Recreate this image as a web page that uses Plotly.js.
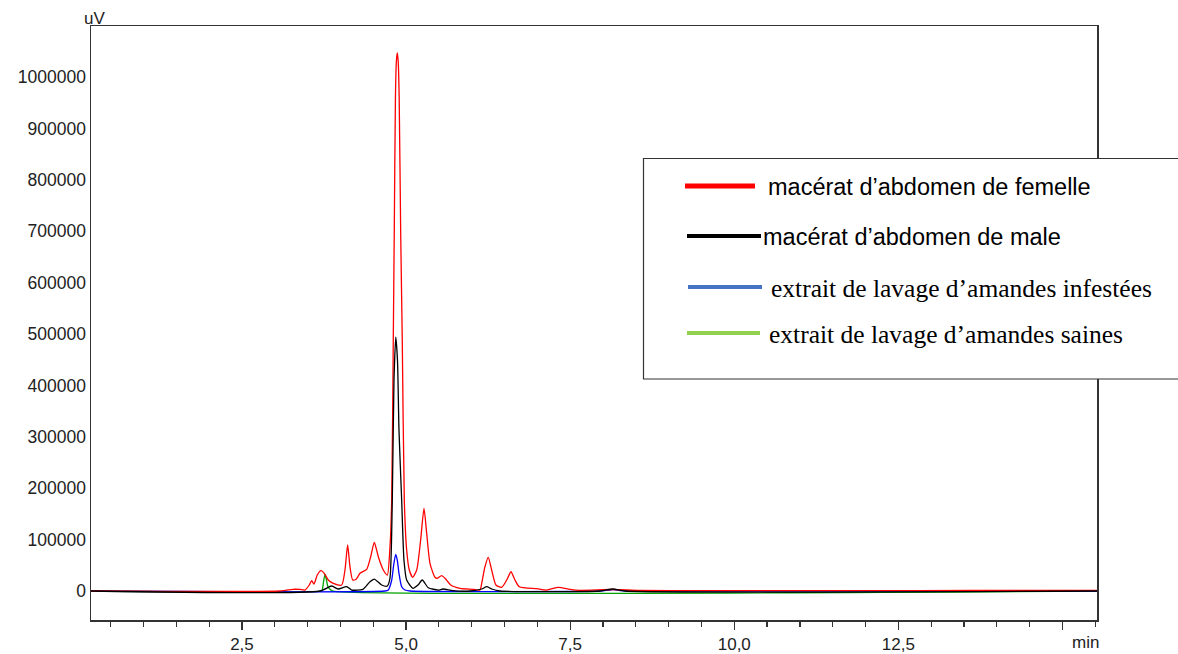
<!DOCTYPE html>
<html>
<head>
<meta charset="utf-8">
<script src="https://cdn.plot.ly/plotly-3.0.1.min.js"></script>
<style>html,body{margin:0;padding:0;background:#fff;}#chart{width:1178px;height:654px;}</style>
</head>
<body>
<div id="chart"></div>
<script>
// Retention time (min) and signal (uV)
const femelleTime = [0.2, 3.079, 3.277, 3.384, 3.460, 3.525, 3.562, 3.597, 3.647, 3.704, 3.754, 3.815, 3.891, 4.019, 4.069, 4.110, 4.145, 4.187, 4.237, 4.298, 4.400, 4.461, 4.516, 4.577, 4.653, 4.714, 4.755, 4.781, 4.805, 4.820, 4.838, 4.852, 4.866, 4.880, 4.895, 4.918, 4.942, 4.973, 5.009, 5.049, 5.101, 5.162, 5.222, 5.273, 5.314, 5.364, 5.440, 5.475, 5.542, 5.593, 5.680, 5.821, 6.024, 6.126, 6.152, 6.202, 6.252, 6.304, 6.369, 6.456, 6.533, 6.598, 6.659, 6.725, 6.990, 7.142, 7.319, 7.497, 7.649, 8.152, 8.56, 9.48, 12.8, 14.5, 15.526];
const femelleSignal = [0, 0, 3300, 3000, 1900, 11700, 20000, 13600, 31100, 39500, 34400, 21400, 15000, 11700, 40900, 89500, 47300, 21400, 22800, 34400, 42200, 66700, 94700, 66700, 40900, 31100, 86200, 177000, 488300, 696500, 960000, 1030000, 1046700, 1030000, 960000, 696500, 488300, 177000, 79800, 40900, 26700, 40900, 99200, 160900, 112300, 53900, 26700, 24700, 29800, 24700, 11700, 5300, 3300, 1900, 15000, 47300, 65600, 40900, 11700, 7200, 21400, 37500, 21400, 8400, 4500, 1900, 7200, 3300, 1400, 2900, 1000, 800, 800, 1200, 1200];

const maleTime = [0.2, 3.688, 3.867, 3.963, 4.095, 4.171, 4.343, 4.450, 4.516, 4.628, 4.714, 4.755, 4.790, 4.816, 4.843, 4.869, 4.892, 4.933, 4.968, 5.009, 5.105, 5.181, 5.247, 5.338, 5.491, 5.562, 5.715, 5.974, 6.152, 6.228, 6.304, 6.430, 7.954, 8.152, 8.335, 15.526];
const maleSignal = [0, 0, 9700, 3900, 8400, 1900, 3300, 18100, 23300, 11700, 9700, 25300, 177000, 410500, 494000, 449400, 313200, 177000, 60300, 21400, 5300, 11700, 21400, 6400, 1900, 3900, 600, 0, 3900, 8400, 3900, 0, 0, 3900, 0, 0];

const infesteesTime = [0.2, 4.679, 4.729, 4.781, 4.811, 4.842, 4.866, 4.892, 4.933, 4.983, 5.06, 7.954, 8.076, 8.152, 8.259, 8.41, 15.526];
const infesteesSignal = [0, 0, 1900, 21400, 50600, 71400, 60300, 34400, 8400, 1900, 0, 0, 1500, 2500, 1000, 0, 0];

const sainesTime = [0.2, 3.704, 3.723, 3.742, 3.764, 3.787, 3.806, 3.841, 3.886, 15.526];
const sainesSignal = [0, 0, 1900, 17500, 32500, 21400, 9700, 3300, 0, 0];

const seriesNames = [
  "macérat d’abdomen de femelle",
  "macérat d’abdomen de male",
  "extrait de lavage d’amandes infestées",
  "extrait de lavage d’amandes saines"
];

const xTickVals = [2.5, 5, 7.5, 10, 12.5, 15];
const xTickText = ["2,5", "5,0", "7,5", "10,0", "12,5", ""];
const yTickVals = [0, 100000, 200000, 300000, 400000, 500000, 600000, 700000, 800000, 900000, 1000000];
const yTickText = ["0", "100000", "200000", "300000", "400000", "500000", "600000", "700000", "800000", "900000", "1000000"];

// ---- layout helpers (pixel -> paper) ----
const L = 91, R = 1097, T = 26, B = 620;
const px = v => (v - L) / (R - L);
const py = v => (B - v) / (B - T);

const lineStyle = {shape: 'spline', smoothing: 0.6, width: 1.3};
const traces = [
  {x: sainesTime, y: sainesSignal, color: '#00a000', name: seriesNames[3]},
  {x: infesteesTime, y: infesteesSignal, color: '#0000ff', name: seriesNames[2]},
  {x: femelleTime, y: femelleSignal, color: '#ff0000', name: seriesNames[0]},
  {x: maleTime, y: maleSignal, color: '#000000', name: seriesNames[1]}
].map(s => ({
  type: 'scatter', mode: 'lines', x: s.x, y: s.y, name: s.name,
  line: Object.assign({}, lineStyle, {color: s.color}),
  showlegend: false, hoverinfo: 'x+y'
}));

const SANS = 'Liberation Sans, Arial, sans-serif';
const SERIF = 'Liberation Serif, Times New Roman, serif';
const legendItems = [
  {name: seriesNames[0], color: '#ff0000', w: 5, x0: 685, x1: 755, y: 186, tx: 766, font: SANS, size: 23.5},
  {name: seriesNames[1], color: '#000000', w: 4, x0: 687, x1: 761, y: 236, tx: 761, font: SANS, size: 23.5},
  {name: seriesNames[2], color: '#4472c4', w: 4, x0: 688, x1: 762, y: 287, tx: 769, font: SERIF, size: 25.5},
  {name: seriesNames[3], color: '#92d050', w: 4, x0: 687, x1: 760, y: 333, tx: 767, font: SERIF, size: 25.5}
];

const shapes = [
  {type: 'rect', xref: 'paper', yref: 'paper', x0: px(643.5), x1: px(1185), y0: py(379), y1: py(158.5),
   fillcolor: '#ffffff', line: {color: '#333333', width: 1.2}, layer: 'above'}
];
const annotations = [
  {xref: 'paper', yref: 'paper', x: px(94), y: py(18), text: 'uV', showarrow: false, xanchor: 'center', yanchor: 'middle',
   font: {family: SANS, size: 17, color: '#222'}},
  {xref: 'paper', yref: 'paper', x: px(1085), y: py(642), text: 'min', showarrow: false, xanchor: 'center', yanchor: 'middle',
   font: {family: SANS, size: 17, color: '#222'}}
];
legendItems.forEach(it => {
  shapes.push({type: 'line', xref: 'paper', yref: 'paper', x0: px(it.x0), x1: px(it.x1), y0: py(it.y), y1: py(it.y),
    line: {color: it.color, width: it.w}, layer: 'above'});
  annotations.push({xref: 'paper', yref: 'paper', x: px(it.tx), y: py(it.y + 1), text: it.name, showarrow: false,
    xanchor: 'left', yanchor: 'middle', font: {family: it.font, size: it.size, color: '#000'}});
});

const layout = {
  width: 1178, height: 654,
  margin: {l: L, r: 1178 - R, t: T, b: 654 - B},
  paper_bgcolor: '#ffffff', plot_bgcolor: '#ffffff',
  showlegend: false,
  font: {family: SANS, size: 17, color: '#222'},
  xaxis: {
    range: [0.2, 15.526], tickmode: 'array', tickvals: xTickVals, ticktext: xTickText,
    ticks: 'outside', ticklen: 8, tickwidth: 1.2, tickcolor: '#333',
    minor: {dtick: 0.5, tick0: 0, ticks: 'outside', ticklen: 5, tickwidth: 1.2, tickcolor: '#333', showgrid: false},
    showline: true, linecolor: '#333', linewidth: 1.5, mirror: true,
    showgrid: false, zeroline: false, tickfont: {size: 17, color: '#222'}
  },
  yaxis: {
    range: [-56400, 1099200], tickmode: 'array', tickvals: yTickVals, ticktext: yTickText,
    ticks: '', showline: true, linecolor: '#333', linewidth: 1.5, mirror: true,
    showgrid: false, zeroline: false, tickfont: {size: 17.5, color: '#222'}
  },
  shapes: shapes,
  annotations: annotations
};

Plotly.newPlot('chart', traces, layout, {displayModeBar: false, staticPlot: true});
</script>
</body>
</html>
